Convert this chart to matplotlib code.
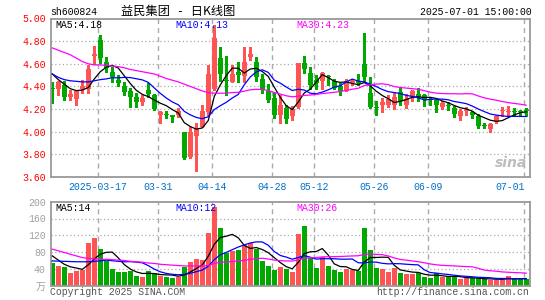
import numpy as np
import matplotlib.pyplot as plt

# daily candles, 2025-03-05 .. 2025-07-01 (80 trading days)
opens = [4.385, 4.38, 4.41, 4.31, 4.29, 4.38, 4.38, 4.67, 4.81, 4.62,
         4.53, 4.46, 4.40, 4.36, 4.31, 4.26, 4.37, 4.32, 4.15, 4.16,
         4.15, 4.15, 4.00, 3.78, 3.96, 4.04, 4.17, 4.38, 4.65, 4.46,
         4.44, 4.53, 4.49, 4.66, 4.62, 4.47, 4.36, 4.30, 4.15, 4.21,
         4.14, 4.22, 4.61, 4.52, 4.46, 4.45, 4.49, 4.45, 4.40, 4.36,
         4.43, 4.45, 4.60, 4.34, 4.22, 4.24, 4.24, 4.24, 4.35, 4.24,
         4.31, 4.33, 4.32, 4.29, 4.28, 4.22, 4.24, 4.21, 4.14, 4.18,
         4.17, 4.14, 4.06, 4.02, 4.09, 4.18, 4.17, 4.18, 4.18, 4.19]
highs = [4.44, 4.45, 4.45, 4.37, 4.36, 4.46, 4.59, 4.76, 4.85, 4.66,
         4.57, 4.50, 4.44, 4.39, 4.34, 4.32, 4.43, 4.33, 4.18, 4.18,
         4.15, 4.21, 4.00, 4.04, 4.08, 4.24, 4.59, 4.94, 4.75, 4.67,
         4.59, 4.62, 4.75, 4.75, 4.66, 4.51, 4.42, 4.34, 4.32, 4.24,
         4.23, 4.61, 4.67, 4.57, 4.50, 4.53, 4.50, 4.47, 4.43, 4.47,
         4.47, 4.51, 4.87, 4.48, 4.27, 4.30, 4.32, 4.35, 4.39, 4.33,
         4.37, 4.39, 4.33, 4.31, 4.30, 4.27, 4.26, 4.23, 4.20, 4.22,
         4.18, 4.16, 4.08, 4.08, 4.15, 4.22, 4.23, 4.21, 4.19, 4.21]
lows = [4.25, 4.32, 4.28, 4.28, 4.24, 4.34, 4.34, 4.60, 4.61, 4.53,
        4.44, 4.40, 4.32, 4.22, 4.22, 4.24, 4.31, 4.19, 4.08, 4.12,
        4.09, 4.13, 3.76, 3.77, 3.65, 4.04, 4.15, 4.37, 4.45, 4.32,
        4.44, 4.44, 4.44, 4.63, 4.45, 4.34, 4.26, 4.12, 4.08, 4.08,
        4.10, 4.21, 4.52, 4.38, 4.38, 4.38, 4.41, 4.38, 4.32, 4.36,
        4.41, 4.41, 4.44, 4.21, 4.15, 4.17, 4.22, 4.20, 4.24, 4.21,
        4.27, 4.27, 4.23, 4.24, 4.17, 4.20, 4.19, 4.13, 4.10, 4.15,
        4.12, 4.03, 4.03, 4.00, 4.08, 4.14, 4.14, 4.14, 4.15, 4.14]
closes = [4.375, 4.44, 4.31, 4.33, 4.36, 4.40, 4.55, 4.69, 4.65, 4.56,
          4.48, 4.43, 4.35, 4.31, 4.26, 4.30, 4.33, 4.20, 4.17, 4.15,
          4.13, 4.18, 3.77, 4.00, 4.035, 4.18, 4.51, 4.83, 4.51, 4.45,
          4.51, 4.50, 4.62, 4.69, 4.48, 4.37, 4.28, 4.15, 4.24, 4.11,
          4.20, 4.61, 4.55, 4.41, 4.43, 4.52, 4.48, 4.39, 4.36, 4.45,
          4.45, 4.43, 4.48, 4.22, 4.21, 4.26, 4.29, 4.31, 4.27, 4.29,
          4.36, 4.31, 4.28, 4.28, 4.24, 4.25, 4.23, 4.16, 4.18, 4.19,
          4.15, 4.05, 4.05, 4.07, 4.14, 4.18, 4.18, 4.17, 4.17, 4.18]
volumes = [54.5, 46.6, 44, 30.8, 34.8, 37.9, 101.9, 113, 86.9, 57.7,
           40.3, 33.2, 33.2, 34, 23.7, 21.3, 34.8, 30.8, 22, 19.8,
           19, 21.3, 45, 56.9, 62.4, 60.8, 125.6, 187, 137.5, 78.2,
           83, 84.5, 96.4, 102, 88.5, 59.3, 47.4, 37, 43.5, 39.5,
           33.2, 124, 142, 64.8, 42.7, 68.7, 46.6, 37, 33.2, 39.5,
           37, 34.8, 137.5, 86, 41, 40.3, 33.2, 42.7, 30.8, 27.7,
           27.7, 29.2, 21.3, 19, 29.2, 19.8, 21.3, 22.9, 15, 17.4,
           17.4, 17.4, 15.8, 13.4, 13.4, 17.4, 22.9, 15, 15, 15]

# moving-average values before a full window exists
ma5_head = [4.51, 4.46, 4.42, 4.38]
ma10_head = [4.51, 4.48, 4.46, 4.45, 4.445, 4.44, 4.44, 4.45, 4.46]
ma30_head = [4.74, 4.72, 4.70, 4.68, 4.65, 4.62, 4.60, 4.59, 4.59, 4.585,
             4.58, 4.575, 4.565, 4.55, 4.54, 4.53, 4.52, 4.51, 4.49, 4.47,
             4.455, 4.44, 4.42, 4.40, 4.38, 4.36, 4.345, 4.34, 4.34]
vma5_head = [71, 61, 51, 45]
vma10_head = [59, 58.5, 58, 57.5, 57, 57, 57, 58, 59]
vma30_head = [87, 83, 79, 75, 71, 67, 65, 64, 63, 63,
              62, 61, 60, 58, 57, 56, 54, 53, 51, 50,
              49, 48, 47, 47, 47, 47, 48, 53, 56]

tick_idx = [8, 18, 27, 37, 44, 54, 63, 79]
tick_labels = ["2025-03-17", "03-31", "04-14", "04-28", "05-12", "05-26", "06-09", "07-01"]
price_ticks = [3.6, 3.8, 4.0, 4.2, 4.4, 4.6, 4.8, 5.0]
vol_ticks = [40, 80, 120, 160, 200]

RED = "#ff5454"
GREEN = "#00a800"
GRID = "#aaaaaa"
MONO = "Liberation Mono"
FS = 7.15


def moving_avg(values, n, head):
    v = np.asarray(values, float)
    return np.concatenate([head, np.convolve(v, np.ones(n) / n, mode="valid")])


o = np.array(opens)
h = np.array(highs)
l = np.array(lows)
c = np.array(closes)
vol = np.array(volumes)
x = np.arange(len(c))
up = c >= o
colors = np.where(up, RED, GREEN)

W, H = 545, 300
fig = plt.figure(figsize=(W / 100, H / 100), dpi=100)
ax = fig.add_axes([50.5 / W, 1 - 177 / H, 479 / W, 158.5 / H])
axv = fig.add_axes([50.5 / W, 1 - 285.7 / H, 479 / W, 84 / H])

for a in (ax, axv):
    a.set_xlim(-0.3, 79.55)
    for s in a.spines.values():
        s.set_color("#999999")
        s.set_linewidth(1.3)
    a.set_xticks([])
    a.tick_params(axis="y", length=0, pad=3.5)
    for i in tick_idx:
        a.axvline(i - 0.38, color=GRID, lw=1, ls=(0, (3.6, 2.9)), zorder=0)

# price panel
ax.set_ylim(3.6, 5.0)
ax.set_yticks(price_ticks)
ax.set_yticklabels(["%.2f" % t for t in price_ticks], color="red", family=MONO, fontsize=FS)
for t in price_ticks[1:-1]:
    ax.axhline(t, color=GRID, lw=0.9, ls=(0, (1, 2)), zorder=0)

ax.vlines(x, l, h, colors=colors, lw=1, zorder=2, antialiased=False)
body_h = np.maximum(np.abs(c - o), 0.009)
ax.bar(x, body_h, bottom=np.minimum(o, c), width=0.8, color=colors, lw=0, zorder=3,
       antialiased=False)

ax.plot(x, moving_avg(c, 5, ma5_head), color="black", lw=0.9, zorder=4)
ax.plot(x, moving_avg(c, 10, ma10_head), color="#0000ff", lw=0.9, zorder=4)
ax.plot(x, moving_avg(c, 30, ma30_head), color="#ff00ff", lw=0.9, zorder=4)

ax.text(5.0 / 479, 1 - 6.5 / 158.5, "MA5:4.18", transform=ax.transAxes, color="black",
        family=MONO, fontsize=FS, va="center")
ax.text(125 / 479, 1 - 6.5 / 158.5, "MA10:4.13", transform=ax.transAxes, color="#0000ff",
        family=MONO, fontsize=FS, va="center")
ax.text(246 / 479, 1 - 6.5 / 158.5, "MA30:4.23", transform=ax.transAxes, color="#ff00ff",
        family=MONO, fontsize=FS, va="center")

for i, lab in zip(tick_idx, tick_labels):
    ha = "right" if lab == tick_labels[-1] else "center"
    xx = i - 0.38 + (0.15 if ha == "right" else 0)
    ax.text(xx, -10 / 158.5, lab, transform=ax.get_xaxis_transform(), ha=ha, va="center",
            color="#0070c8", family=MONO, fontsize=FS)

ax.text(0.995, 0.09, "sina", transform=ax.transAxes, ha="right", va="center",
        color="#bdbdbd", fontsize=10, fontweight="bold", style="italic")

# volume panel
axv.set_ylim(0, 200)
axv.set_yticks([0] + vol_ticks)
axv.set_yticklabels(["万"] + [str(t) for t in vol_ticks], color="#a0a0a0",
                    family=[MONO, "Noto Sans CJK SC"], fontsize=FS)
for t in vol_ticks[:-1]:
    axv.axhline(t, color=GRID, lw=0.9, ls=(0, (1, 2)), zorder=0)
axv.bar(x, vol, width=0.8, color=colors, lw=0, zorder=2, antialiased=False)
axv.plot(x, moving_avg(vol, 5, vma5_head), color="black", lw=0.9, zorder=3)
axv.plot(x, moving_avg(vol, 10, vma10_head), color="#0000ff", lw=0.9, zorder=3)
axv.plot(x, moving_avg(vol, 30, vma30_head), color="#ff00ff", lw=0.9, zorder=3)

axv.text(5.0 / 479, 1 - 6 / 84, "MA5:14", transform=axv.transAxes, color="black",
         family=MONO, fontsize=FS, va="center")
axv.text(125 / 479, 1 - 6 / 84, "MA10:12", transform=axv.transAxes, color="#0000ff",
         family=MONO, fontsize=FS, va="center")
axv.text(246 / 479, 1 - 6 / 84, "MA30:26", transform=axv.transAxes, color="#ff00ff",
         family=MONO, fontsize=FS, va="center")

# header and footer
fig.text(50 / W, 1 - 12 / H, "sh600824", family=MONO, fontsize=FS, va="center")
fig.text(121 / W, 1 - 11.5 / H, "益民集团   -   日K线图", family=["Noto Sans CJK SC", "DejaVu Sans"],
         fontsize=8.8, va="center")
fig.text(532 / W, 1 - 12 / H, "2025-07-01 15:00:00", family=MONO, fontsize=FS,
         va="center", ha="right")
fig.text(50 / W, 1 - 292 / H, "Copyright 2025 SINA.COM", family=MONO, fontsize=FS,
         va="center", color="#555555")
fig.text(529 / W, 1 - 292 / H, "http://finance.sina.com.cn", family=MONO, fontsize=FS,
         va="center", ha="right", color="#555555")

fig.savefig("out.png", dpi=100)
